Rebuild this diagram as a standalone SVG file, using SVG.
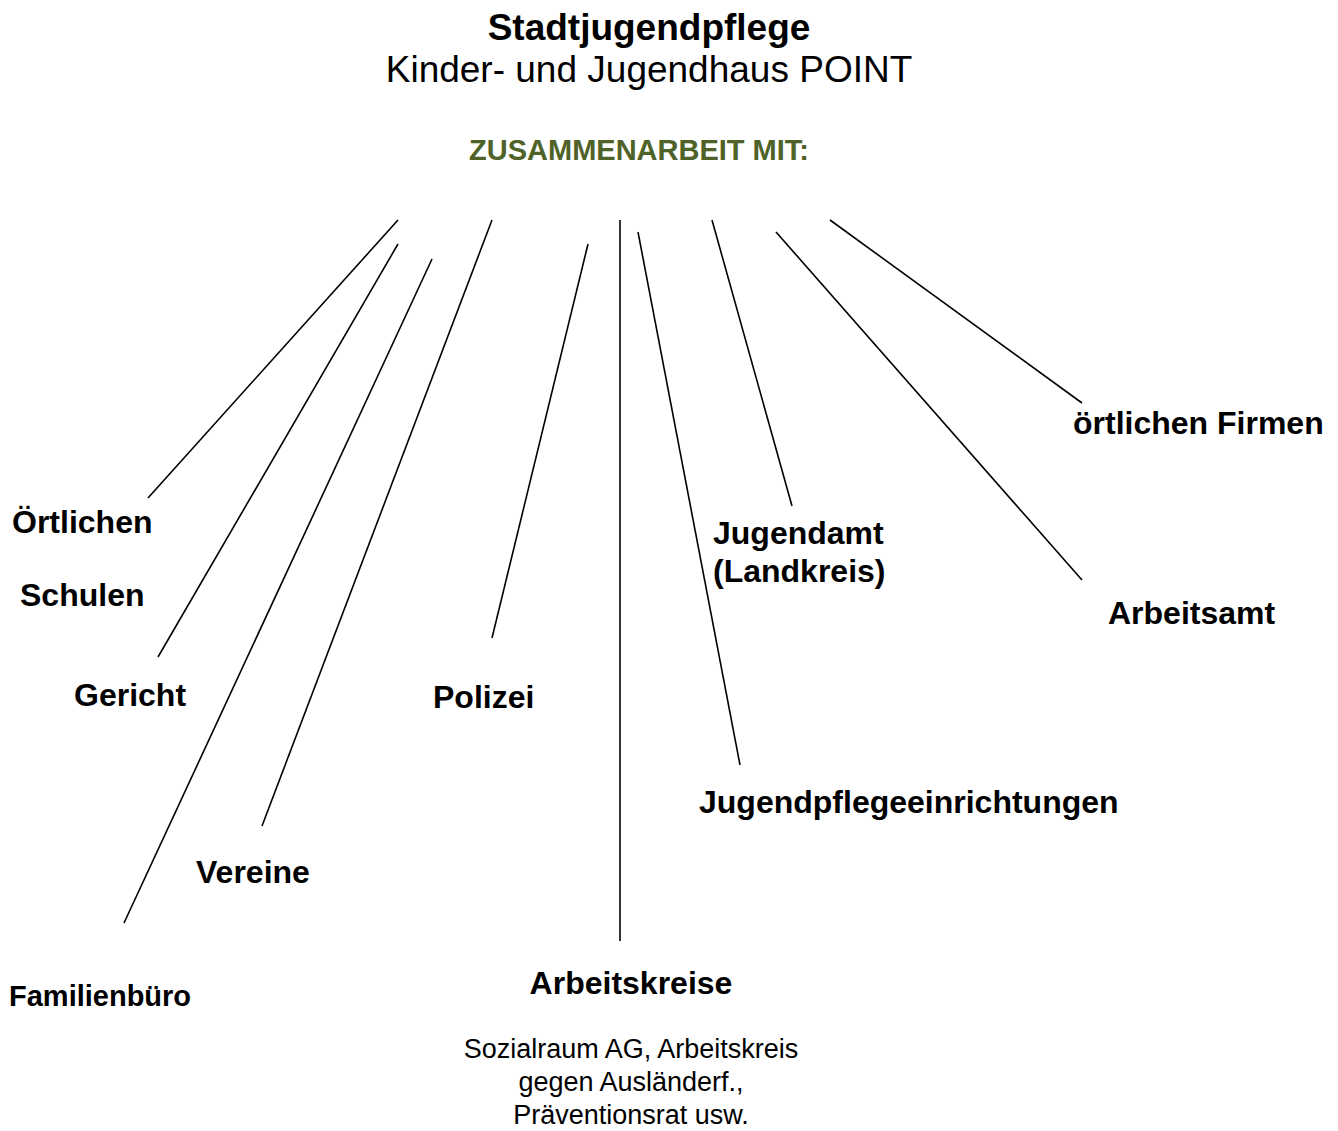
<svg xmlns="http://www.w3.org/2000/svg" width="1338" height="1131" viewBox="0 0 1338 1131">
<style>
text{font-family:"Liberation Sans",Arial,sans-serif;fill:#000}
.t{font-size:37px;font-weight:bold}
.s{font-size:37px}
.z{font-size:29px;font-weight:bold;fill:#4F6228}
.b{font-size:32px;font-weight:bold}
.r{font-size:27px}
.c line{stroke:#000;stroke-width:1.6}
</style>
<rect width="1338" height="1131" fill="#fff"/>
<g id="title">
<text class="t" x="649" y="40" text-anchor="middle">Stadtjugendpflege</text>
<text class="s" x="649" y="82" text-anchor="middle">Kinder- und Jugendhaus POINT</text>
<text class="z" x="639" y="160" text-anchor="middle">ZUSAMMENARBEIT MIT:</text>
</g>
<g class="c" id="connectors">
<line x1="398" y1="220" x2="148" y2="498"/>
<line x1="398" y1="244" x2="158" y2="657"/>
<line x1="432" y1="259" x2="124" y2="923"/>
<line x1="492" y1="220" x2="262" y2="826"/>
<line x1="588" y1="244" x2="492" y2="638"/>
<line x1="620" y1="220" x2="620" y2="941"/>
<line x1="638" y1="232" x2="740" y2="765"/>
<line x1="712" y1="220" x2="792" y2="506"/>
<line x1="776" y1="232" x2="1082" y2="580"/>
<line x1="830" y1="220" x2="1082" y2="403"/>
</g>
<g id="n-oertlichen-schulen">
<text class="b" x="12" y="533">Örtlichen</text>
<text class="b" x="20" y="606">Schulen</text>
</g>
<g id="n-gericht"><text class="b" x="74" y="706">Gericht</text></g>
<g id="n-polizei"><text class="b" x="433" y="708">Polizei</text></g>
<g id="n-vereine"><text class="b" x="196" y="883">Vereine</text></g>
<g id="n-familienbuero"><text class="b" x="9" y="1006" style="font-size:29px">Familienbüro</text></g>
<g id="n-arbeitskreise">
<text class="b" x="631" y="994" text-anchor="middle">Arbeitskreise</text>
<text class="r" x="631" y="1058" text-anchor="middle">Sozialraum AG, Arbeitskreis</text>
<text class="r" x="631" y="1091" text-anchor="middle">gegen Ausländerf.,</text>
<text class="r" x="631" y="1124" text-anchor="middle">Präventionsrat usw.</text>
</g>
<g id="n-jugendamt">
<text class="b" x="713" y="544">Jugendamt</text>
<text class="b" x="713" y="582">(Landkreis)</text>
</g>
<g id="n-arbeitsamt"><text class="b" x="1108" y="624">Arbeitsamt</text></g>
<g id="n-firmen"><text class="b" x="1073" y="434">örtlichen Firmen</text></g>
<g id="n-jugendpflege"><text class="b" x="699" y="813">Jugendpflegeeinrichtungen</text></g>
</svg>
